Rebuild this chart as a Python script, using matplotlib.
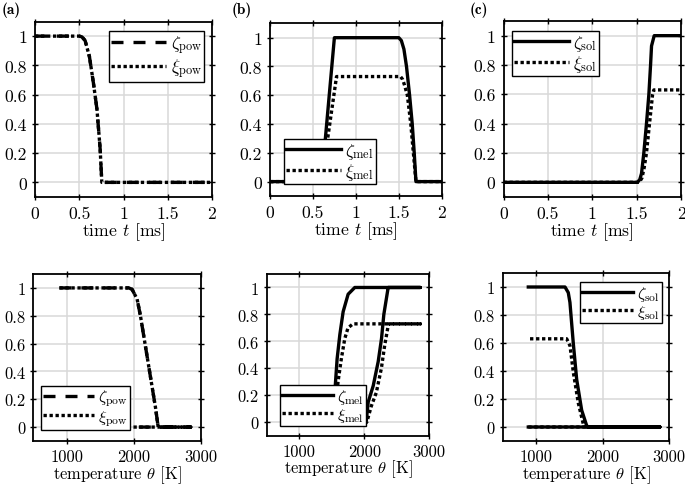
import matplotlib
matplotlib.use("Agg")
import matplotlib.pyplot as plt
from matplotlib.ticker import FuncFormatter

# --- data ------------------------------------------------------------------
# time series (t in ms)
t_pow = [0.0, 0.5, 0.53, 0.566, 0.615, 0.66, 0.70, 0.736, 0.755, 2.0]
zeta_pow_t = [1.0, 1.0, 0.995, 0.97, 0.86, 0.68, 0.50, 0.23, 0.0, 0.0]
xi_pow_t = [1.0, 1.0, 0.995, 0.97, 0.86, 0.68, 0.50, 0.23, 0.0, 0.0]

t_zeta_mel = [0.0, 0.60, 0.75, 1.50, 1.53, 1.56, 1.59, 1.626, 1.657, 1.68, 1.70, 2.0]
zeta_mel_t = [0.0, 0.0, 1.0, 1.0, 0.98, 0.92, 0.80, 0.60, 0.40, 0.20, 0.0, 0.0]
t_xi_mel = [0.0, 0.60, 0.775, 1.52, 1.545, 1.567, 1.60, 1.64, 1.67, 1.70, 2.0]
xi_mel_t = [0.0, 0.0, 0.73, 0.73, 0.71, 0.67, 0.60, 0.40, 0.20, 0.0, 0.0]

t_zeta_sol = [0.0, 1.51, 1.536, 1.555, 1.581, 1.611, 1.638, 1.657, 1.668, 1.698, 2.0]
zeta_sol_t = [0.0, 0.0, 0.02, 0.06, 0.20, 0.40, 0.60, 0.80, 0.93, 1.0, 1.0]
t_xi_sol = [0.0, 1.53, 1.56, 1.585, 1.611, 1.645, 1.68, 1.694, 2.0]
xi_sol_t = [0.0, 0.0, 0.03, 0.10, 0.20, 0.40, 0.60, 0.63, 0.63]

# temperature paths (theta in K), heating then cooling
th_pow = [890, 1925, 1975, 2050, 2100, 2175, 2250, 2325, 2365, 2850, 890]
zeta_pow_th = [1.0, 1.0, 0.99, 0.92, 0.80, 0.58, 0.36, 0.14, 0.0, 0.0, 0.0]
xi_pow_th = [1.0, 1.0, 0.99, 0.92, 0.80, 0.58, 0.36, 0.14, 0.0, 0.0, 0.0]

th_zeta_mel = [890, 2030, 2062, 2139, 2216, 2267, 2303, 2370, 2866,
               1855, 1752, 1675, 1624, 1582, 1552, 1530, 890]
zeta_mel_th = [0.0, 0.0, 0.15, 0.27, 0.45, 0.62, 0.80, 1.0, 1.0,
               1.0, 0.95, 0.82, 0.65, 0.47, 0.26, 0.0, 0.0]
th_xi_mel = [890, 2040, 2110, 2187, 2265, 2316, 2375, 2866,
             1827, 1750, 1700, 1647, 1596, 1560, 1540, 890]
xi_mel_th = [0.0, 0.0, 0.12, 0.22, 0.40, 0.57, 0.73, 0.73,
             0.73, 0.70, 0.62, 0.47, 0.30, 0.10, 0.0, 0.0]

th_zeta_sol = [884, 2860, 1785, 1760, 1685, 1610, 1559, 1509, 1484, 1435, 884]
zeta_sol_th = [0.0, 0.0, 0.0, 0.01, 0.12, 0.34, 0.60, 0.89, 0.96, 1.0, 1.0]
th_xi_sol = [884, 2860, 1760, 1710, 1635, 1560, 1510, 1460, 884]
xi_sol_th = [0.0, 0.0, 0.0, 0.02, 0.17, 0.39, 0.58, 0.63, 0.63]

y_ticks = [0, 0.2, 0.4, 0.6, 0.8, 1]
t_ticks = [0, 0.5, 1, 1.5, 2]
th_ticks = [1000, 2000, 3000]
panel_labels = ["(a)", "(b)", "(c)"]

# --- style -------------------------------------------------------------------
plt.rcParams["font.family"] = "serif"
plt.rcParams["font.serif"] = ["cmr10"]
plt.rcParams["mathtext.fontset"] = "cm"
plt.rcParams["axes.unicode_minus"] = False
plt.rcParams["axes.formatter.use_mathtext"] = True

LW = 2.4
DASH = (0, (3.6, 3.0))
DOT = (0, (1.0, 0.8))
FS_TOP = 12.7
FS_BOT = 11.9

W, H = 685, 485
fig = plt.figure(figsize=(W / 100, H / 100), dpi=100)


def px_axes(left, top, right, bottom):
    return fig.add_axes([left / W, 1 - bottom / H, (right - left) / W, (bottom - top) / H])


fmt = FuncFormatter(lambda v, p: f"{v:g}")


def style(ax, xticks, xlim, xlabel, fs, xpad, labelpad):
    ax.set_xlim(*xlim)
    ax.set_ylim(-0.1, 1.1)
    ax.set_xticks(xticks)
    ax.set_yticks(y_ticks)
    ax.xaxis.set_major_formatter(fmt)
    ax.yaxis.set_major_formatter(fmt)
    ax.grid(True, color="#d9d9d9", lw=1.1, zorder=0)
    ax.set_axisbelow(True)
    ax.tick_params(direction="inout", length=4.5, width=1.0, top=True, right=True,
                   labelsize=fs, colors="black")
    ax.tick_params(axis="x", pad=xpad)
    ax.tick_params(axis="y", pad=3.5)
    for s in ax.spines.values():
        s.set_linewidth(1.3)
    ax.set_xlabel(xlabel, fontsize=fs, labelpad=labelpad)


def legend(ax, loc, anchor, fs):
    leg = ax.legend(loc=loc, bbox_to_anchor=anchor, borderaxespad=0, fontsize=fs,
                    handlelength=3.1, handletextpad=0.25, labelspacing=0.0,
                    borderpad=0.12, fancybox=False, framealpha=1, edgecolor="black")
    leg.get_frame().set_linewidth(1.0)


t_label = r"time $t$ [ms]"
th_label = r"temperature $\theta$ [K]"

# top row: versus time
ax = px_axes(35, 22.5, 212, 198)
ax.plot(t_pow, zeta_pow_t, color="k", lw=LW, ls=DASH, label=r"$\zeta_{\mathrm{pow}}$")
ax.plot(t_pow, xi_pow_t, color="k", lw=LW, ls=DOT, label=r"$\xi_{\mathrm{pow}}$")
style(ax, t_ticks, (0, 2), t_label, FS_TOP, 4, -0.5)
legend(ax, "upper right", (0.955, 0.945), FS_TOP)

ax = px_axes(270, 24.3, 441.7, 197)
ax.plot(t_zeta_mel, zeta_mel_t, color="k", lw=LW, label=r"$\zeta_{\mathrm{mel}}$")
ax.plot(t_xi_mel, xi_mel_t, color="k", lw=LW, ls=DOT, label=r"$\xi_{\mathrm{mel}}$")
style(ax, t_ticks, (0, 2), t_label, FS_TOP, 4, -0.5)
legend(ax, "lower left", (0.082, 0.07), FS_TOP)

ax = px_axes(503.5, 22, 681, 198)
ax.plot(t_zeta_sol, zeta_sol_t, color="k", lw=LW, label=r"$\zeta_{\mathrm{sol}}$")
ax.plot(t_xi_sol, xi_sol_t, color="k", lw=LW, ls=DOT, label=r"$\xi_{\mathrm{sol}}$")
style(ax, t_ticks, (0, 2), t_label, FS_TOP, 4, -0.5)
legend(ax, "upper left", (0.048, 0.943), FS_TOP)

# bottom row: versus temperature
ax = px_axes(33.3, 275, 200.7, 442)
ax.plot(th_pow, zeta_pow_th, color="k", lw=LW, ls=DASH, label=r"$\zeta_{\mathrm{pow}}$")
ax.plot(th_pow, xi_pow_th, color="k", lw=LW, ls=DOT, label=r"$\xi_{\mathrm{pow}}$")
style(ax, th_ticks, (500, 3000), th_label, FS_BOT, 3.5, -1.0)
legend(ax, "lower left", (0.046, 0.066), FS_BOT)

ax = px_axes(267, 275, 429, 436.7)
ax.plot(th_zeta_mel, zeta_mel_th, color="k", lw=LW, label=r"$\zeta_{\mathrm{mel}}$")
ax.plot(th_xi_mel, xi_mel_th, color="k", lw=LW, ls=DOT, label=r"$\xi_{\mathrm{mel}}$")
style(ax, th_ticks, (500, 3000), th_label, FS_BOT, 3.5, -1.0)
legend(ax, "lower left", (0.08, 0.06), FS_BOT)

ax = px_axes(502.7, 274, 669.3, 442)
ax.plot(th_zeta_sol, zeta_sol_th, color="k", lw=LW, label=r"$\zeta_{\mathrm{sol}}$")
ax.plot(th_xi_sol, xi_sol_th, color="k", lw=LW, ls=DOT, label=r"$\xi_{\mathrm{sol}}$")
style(ax, th_ticks, (500, 3000), th_label, FS_BOT, 3.5, -1.0)
legend(ax, "upper right", (0.956, 0.946), FS_BOT)

for x, lab in zip([2, 232, 470], panel_labels):
    fig.text(x / W, 1 - 2 / H, lab, fontfamily="cmb10", fontsize=11, va="top", ha="left")

fig.savefig("out.png", dpi=100)
